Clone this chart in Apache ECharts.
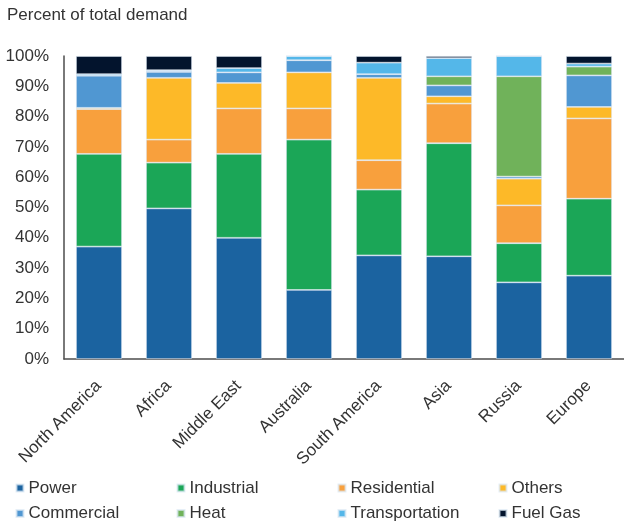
<!DOCTYPE html>
<html>
<head>
<meta charset="utf-8">
<script src="https://cdn.jsdelivr.net/npm/echarts@6/dist/echarts.min.js"></script>
<style>
  html, body { margin: 0; padding: 0; background: #fff; }
  #chart { width: 624px; height: 526px; }
</style>
</head>
<body>
<div id="chart"></div>
<script>
// Regions along the x axis
const regions = ['North America', 'Africa', 'Middle East', 'Australia', 'South America', 'Asia', 'Russia', 'Europe'];

// Share of total gas demand by sector, percent
const power          = [37.1, 49.7, 40.0, 22.8, 34.2, 33.9, 25.3, 27.5];
const industrial     = [30.6, 15.1, 27.7, 49.6, 21.7, 37.3, 12.9, 25.4];
const residential    = [14.8,  7.6, 15.0, 10.3,  9.7, 13.1, 12.5, 26.5];
const others         = [ 0.4, 20.4,  8.4, 11.9, 27.2,  2.4,  8.8,  3.8];
const commercial     = [10.6,  2.0,  3.5,  4.0,  1.2,  3.6,  0.7, 10.4];
const heat           = [ 0.0,  0.0,  0.0,  0.0,  0.0,  3.0, 33.1,  2.9];
const transportation = [ 0.5,  0.5,  1.4,  1.4,  3.8,  6.0,  6.7,  1.0];
const fuelGas        = [ 6.0,  4.7,  4.0,  0.0,  2.2,  0.7,  0.0,  2.5];

const yTicks = [0, 10, 20, 30, 40, 50, 60, 70, 80, 90, 100];

const sectors = [
  { name: 'Power',          data: power,          color: '#1b63a0' },
  { name: 'Industrial',     data: industrial,     color: '#1ba657' },
  { name: 'Residential',    data: residential,    color: '#f8a03d' },
  { name: 'Others',         data: others,         color: '#fdb928' },
  { name: 'Commercial',     data: commercial,     color: '#5097d2' },
  { name: 'Heat',           data: heat,           color: '#70b25a' },
  { name: 'Transportation', data: transportation, color: '#54b7e9' },
  { name: 'Fuel Gas',       data: fuelGas,        color: '#03142d' }
];

const FONT = 'Liberation Sans, Arial, sans-serif';
const TEXT = '#333333';

const chart = echarts.init(document.getElementById('chart'), null, { renderer: 'canvas' });

// Legend laid out as a 4-column grid, two rows
const legendCols = [15.5, 176.5, 337.5, 498.5];
const legends = legendCols.map((x, i) => ({
  left: x,
  top: 479.5,
  orient: 'vertical',
  icon: 'rect',
  itemWidth: 7,
  itemHeight: 7,
  itemGap: 8.5,
  padding: 0,
  selectedMode: false,
  data: [sectors[i].name, sectors[i + 4].name],
  textStyle: { fontFamily: FONT, fontSize: 17, color: TEXT }
}));

chart.setOption({
  animation: false,
  title: {
    text: 'Percent of total demand',
    left: 2,
    top: 2,
    textStyle: { fontFamily: FONT, fontSize: 17, fontWeight: 'normal', color: TEXT }
  },
  legend: legends,
  grid: { left: 64, top: 56, width: 564, height: 303 },
  xAxis: {
    type: 'category',
    data: regions,
    axisLine: { lineStyle: { color: '#4d4d4d', width: 1.5 } },
    axisTick: { show: false },
    axisLabel: {
      rotate: 45,
      margin: 12,
      interval: 0,
      align: 'right',
      verticalAlign: 'top',
      padding: [0, 9, 0, 0],
      fontFamily: FONT,
      fontSize: 17,
      color: TEXT
    }
  },
  yAxis: {
    type: 'value',
    min: yTicks[0],
    max: yTicks[yTicks.length - 1],
    interval: 10,
    axisLine: { show: true, lineStyle: { color: '#4d4d4d', width: 1.5 } },
    axisTick: { show: false },
    splitLine: { show: false },
    axisLabel: {
      margin: 15,
      fontFamily: FONT,
      fontSize: 17,
      color: TEXT,
      formatter: v => v + '%'
    }
  },
  series: sectors.map(s => ({
    name: s.name,
    type: 'bar',
    stack: 'total',
    barWidth: 46,
    data: s.data,
    itemStyle: {
      color: s.color,
      borderColor: 'rgba(220,232,244,0.7)',
      borderWidth: 0.8
    }
  }))
});
</script>
</body>
</html>
